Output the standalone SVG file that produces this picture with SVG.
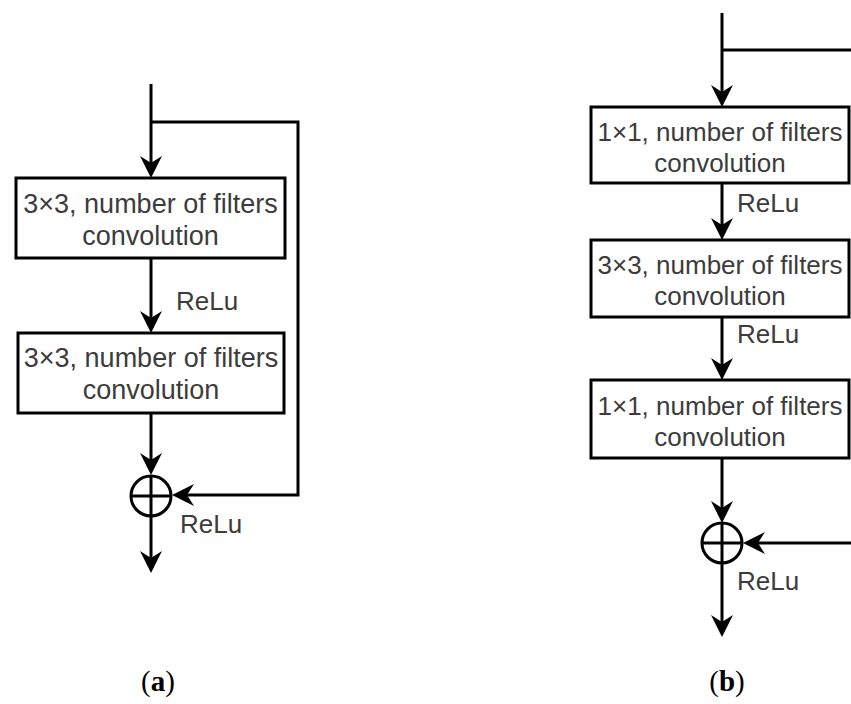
<svg xmlns="http://www.w3.org/2000/svg" width="851" height="704" viewBox="0 0 851 704">
<style>
.box{fill:#fff;stroke:#000;stroke-width:3}
.ln{fill:none;stroke:#000;stroke-width:3}
.arr{fill:none;stroke:#000;stroke-width:3;marker-end:url(#ah)}
.t{font-family:"Liberation Sans",Arial,sans-serif;font-size:26px;fill:#3c3c3c;text-anchor:middle}
.ta{font-size:27px}
.lb{font-family:"Liberation Sans",Arial,sans-serif;font-size:26px;fill:#3c3c3c}
.cap{font-family:"Liberation Serif","Times New Roman",serif;font-size:29px;fill:#000;text-anchor:middle}
</style>
<defs>
<marker id="ah" markerUnits="userSpaceOnUse" viewBox="-16 -12 26 24" markerWidth="26" markerHeight="24" refX="0" refY="0" orient="auto">
<path d="M8,0 L-14,-11 L-7,0 L-14,11 Z" fill="#000"/>
</marker>
</defs>
<rect width="851" height="704" fill="#fff"/>
<g id="connectors">
<line class="arr" x1="151" y1="84" x2="151" y2="170"/>
<polyline class="arr" points="151,122 298,122 298,495 180,495"/>
<line class="arr" x1="151" y1="258" x2="151" y2="325"/>
<line class="arr" x1="151" y1="413" x2="151" y2="467"/>
<line class="arr" x1="151" y1="517" x2="151" y2="565"/>
<line class="arr" x1="722" y1="13" x2="722" y2="99"/>
<line class="ln" x1="722" y1="50" x2="851" y2="50"/>
<line class="arr" x1="722" y1="183" x2="722" y2="232"/>
<line class="arr" x1="722" y1="317" x2="722" y2="372"/>
<line class="arr" x1="722" y1="458" x2="722" y2="515"/>
<line class="arr" x1="851" y1="543" x2="751" y2="543"/>
<line class="arr" x1="722" y1="563" x2="722" y2="629"/>
</g>
<g id="a_conv1">
<rect class="box" x="16" y="178" width="269" height="80"/>
<text class="t ta" x="150.5" y="213">3×3, number of filters</text>
<text class="t ta" x="150.5" y="245">convolution</text>
</g>
<g id="a_relu1"><text class="lb" x="176" y="310">ReLu</text></g>
<g id="a_conv2">
<rect class="box" x="18" y="333" width="266" height="80"/>
<text class="t ta" x="151" y="367">3×3, number of filters</text>
<text class="t ta" x="151" y="399">convolution</text>
</g>
<g id="a_add">
<circle class="ln" cx="151" cy="496" r="20"/>
<line class="ln" x1="131" y1="496" x2="171" y2="496"/>
<line class="ln" x1="151" y1="476" x2="151" y2="516"/>
</g>
<g id="a_relu2"><text class="lb" x="180" y="533">ReLu</text></g>
<g id="b_conv1">
<rect class="box" x="591" y="107" width="258" height="76"/>
<text class="t" x="720" y="141">1×1, number of filters</text>
<text class="t" x="720" y="172">convolution</text>
</g>
<g id="b_relu1"><text class="lb" x="737" y="212">ReLu</text></g>
<g id="b_conv2">
<rect class="box" x="591" y="240" width="258" height="77"/>
<text class="t" x="720" y="274">3×3, number of filters</text>
<text class="t" x="720" y="305">convolution</text>
</g>
<g id="b_relu2"><text class="lb" x="737" y="343">ReLu</text></g>
<g id="b_conv3">
<rect class="box" x="591" y="380" width="258" height="78"/>
<text class="t" x="720" y="415">1×1, number of filters</text>
<text class="t" x="720" y="446">convolution</text>
</g>
<g id="b_add">
<circle class="ln" cx="722" cy="543" r="20"/>
<line class="ln" x1="702" y1="543" x2="742" y2="543"/>
<line class="ln" x1="722" y1="523" x2="722" y2="563"/>
</g>
<g id="b_relu3"><text class="lb" x="737" y="590">ReLu</text></g>
<g id="captions">
<text class="cap" x="158" y="691">(<tspan font-weight="bold">a</tspan>)</text>
<text class="cap" x="727" y="691">(<tspan font-weight="bold">b</tspan>)</text>
</g>
</svg>
